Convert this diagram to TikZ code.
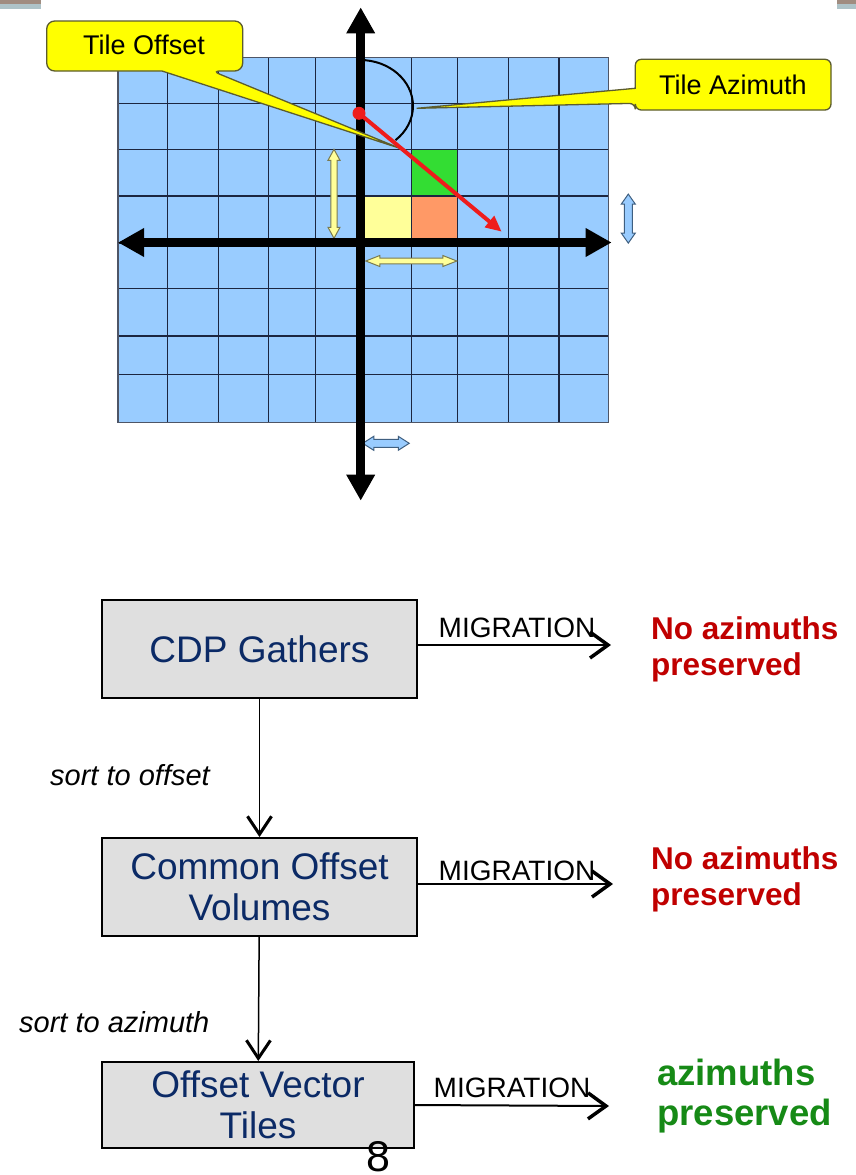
\documentclass[tikz,border=0pt]{standalone}
\usepackage{fontspec}
\setmainfont{Liberation Sans}
\usetikzlibrary{arrows.meta}

\definecolor{cellblue}{HTML}{99CCFF}
\definecolor{gridline}{HTML}{1C2640}
\definecolor{gridframe}{HTML}{4E5566}
\definecolor{tilegreen}{HTML}{33DD33}
\definecolor{tileorange}{HTML}{FF9966}
\definecolor{tileyellow}{HTML}{FFFF99}
\definecolor{calloutfill}{HTML}{FFFF00}
\definecolor{calloutedge}{HTML}{5C5C2E}
\definecolor{azred}{HTML}{EE1C1C}
\definecolor{boxfill}{HTML}{DFDFDF}
\definecolor{boxtext}{HTML}{0B2A66}
\definecolor{lossred}{HTML}{C00000}
\definecolor{keepgreen}{HTML}{168A16}
\definecolor{blueedge}{HTML}{3F5F80}
\definecolor{yellowedge}{HTML}{7A7A50}
\definecolor{sliverbrown}{HTML}{A08C80}
\definecolor{slivergray}{HTML}{AEC3C8}

\tikzset{
  % block double arrow: length, head length, head half width, shaft half width
  pics/dblarrow/.style n args={4}{code={
    \path[pic actions] ({-#1/2},0) -- ({-#1/2+#2},{-#3}) -- ({-#1/2+#2},{-#4})
      -- ({#1/2-#2},{-#4}) -- ({#1/2-#2},{-#3}) -- ({#1/2},0)
      -- ({#1/2-#2},{#3}) -- ({#1/2-#2},{#4}) -- ({-#1/2+#2},{#4})
      -- ({-#1/2+#2},{#3}) -- cycle;
  }},
  gridln/.style={draw=gridline, line width=1.4pt},
  frame/.style={draw=gridframe, line width=1.5pt},
  axisline/.style={line width=8.5pt, black,
    {Triangle[length=26pt,width=27pt]}-{Triangle[length=26pt,width=27pt]}},
  yellowarrow/.style={draw=yellowedge, fill=tileyellow, line width=1pt},
  bluearrow/.style={draw=blueedge, fill=cellblue, line width=1pt},
  callout/.style={fill=calloutfill, draw=calloutedge, line width=1.3pt, rounded corners=8pt},
  callouttext/.style={font=\fontsize{27}{31}\selectfont, text=black, inner sep=0pt},
  azimutharrow/.style={draw=azred, line width=4pt, -{Triangle[length=16pt,width=14pt]}},
  stagebox/.style={draw=black, line width=2pt, fill=boxfill, text=boxtext,
    font=\fontsize{37}{41}\selectfont, align=center, inner sep=0pt},
  sortlink/.style={draw=black, line width=1.5pt,
    -{Straight Barb[length=18pt,width=24pt,line width=3pt]}},
  miglink/.style={draw=black, line width=2pt,
    -{Straight Barb[length=18pt,width=26pt,line width=3.5pt]}},
  miglabel/.style={font=\fontsize{28}{32}\selectfont, inner sep=0pt},
  sortlabel/.style={font=\itshape\fontsize{29}{33}\selectfont, inner sep=0pt, anchor=west},
  lossnote/.style={font=\bfseries\fontsize{31.5}{36}\selectfont, text=lossred,
    align=left, inner sep=0pt, anchor=west},
  keepnote/.style={font=\bfseries\fontsize{36.5}{40}\selectfont, text=keepgreen,
    align=left, inner sep=0pt, anchor=west},
}

\begin{document}
\begin{tikzpicture}[x=1pt, y=-1pt]
\useasboundingbox (0,0) rectangle (856,1175);
\fill[white] (0,0) rectangle (856,1175);

% slide corner strips
\fill[sliverbrown] (0,0) rectangle (41,4);
\fill[slivergray] (0,4) rectangle (41,9.3);
\fill[sliverbrown] (836.7,0) rectangle (856,4);
\fill[slivergray] (836.7,4) rectangle (856,9.3);

% tile grid
\fill[cellblue] (118,57.3) rectangle (608.7,422.5);
\fill[tilegreen] (411.5,149.3) rectangle (457.7,196);
\fill[tileyellow] (361,196) rectangle (411.5,243);
\fill[tileorange] (411.5,196) rectangle (457.7,243);
\foreach \gx in {167.7,218.5,268.3,315.7,361,411.5,457.7,508.3,559}
  \draw[gridln] (\gx,57.3) -- (\gx,422.5);
\foreach \gy in {103.3,149.3,196,243,288.3,336,374.3}
  \draw[gridln] (118,\gy) -- (608.7,\gy);
\draw[frame] (118,57.3) rectangle (608.7,422.5);

% tile size markers
\pic[yellowarrow, rotate=90] at (334,193.8) {dblarrow={89}{11}{6}{3.2}};
\pic[yellowarrow] at (411.3,261) {dblarrow={91}{14}{5.5}{2.8}};
\pic[bluearrow, rotate=90] at (628.3,218.6) {dblarrow={49}{10}{7}{4}};
\pic[bluearrow] at (386,443.3) {dblarrow={46.5}{11}{7}{4}};

% azimuth sweep
\draw[black, line width=2pt] (360,60) arc[start angle=-90, end angle=48, x radius=53, y radius=46];

% axes
\coordinate (ytop) at (360.7,7.3);
\coordinate (ybot) at (360.7,500.7);
\coordinate (xleft) at (118,242.5);
\coordinate (xright) at (611.7,242.5);
\draw[axisline] (ytop) -- (ybot);
\draw[axisline] (xleft) -- (xright);

% callouts
\path[callout] (144,21) -- (242.7,21) -- (242.7,71) -- (212,71)
  [sharp corners] -- (399,148) -- (162,71)
  [rounded corners=8pt] -- (46.7,71) -- (46.7,21) -- cycle;
\node[callouttext] (offsetlbl) at (144,45) {Tile Offset};
\path[callout, rounded corners=6pt] (733,59.3) -- (831,59.3) -- (831,110) -- (635.3,110) -- (635.3,103.3)
  [sharp corners] -- (416.7,108.3) -- (635.3,88.3)
  [rounded corners=6pt] -- (635.3,59.3) -- cycle;
\node[callouttext] (azlbl) at (733,85) {Tile Azimuth};

% offset vector
\coordinate (origin) at (359,113.3);
\coordinate (vectip) at (501.7,231.7);
\draw[azimutharrow] (origin) -- (vectip);
\fill[azred] (origin) circle (6.5);

% processing flow
\node[stagebox, minimum width=315pt, minimum height=98pt] (b1) at (259.5,649) {CDP Gathers};
\node[stagebox, minimum width=315pt, minimum height=98pt] (b2) at (259.5,887) {Common Offset\\Volumes};
\node[stagebox, minimum width=312pt, minimum height=86pt] (b3) at (258,1105) {Offset Vector\\Tiles};

\draw[sortlink] (b1) -- (b2);
\draw[sortlink] (b2) -- (b3);
\node[sortlabel] (s1) at (50,775) {sort to offset};
\node[sortlabel] (s2) at (19,1022) {sort to azimuth};

\coordinate (m1) at (611,645);
\coordinate (m2) at (613,884);
\coordinate (m3) at (609,1106);
\draw[miglink] (b1.east |- m1) -- (m1);
\draw[miglink] (b2.east |- m2) -- (m2);
\draw[miglink] (b3.east) -- (m3);
\node[miglabel] (g1) at (517,628) {MIGRATION};
\node[miglabel] (g2) at (517,871) {MIGRATION};
\node[miglabel] (g3) at (512,1088) {MIGRATION};

\node[lossnote] (r1) at (651,649) {No azimuths\\preserved};
\node[lossnote] (r2) at (651,879) {No azimuths\\preserved};
\node[keepnote] (r3) at (657,1096) {azimuths\\preserved};

\node[font=\fontsize{43}{50}\selectfont, inner sep=0pt, anchor=base] (pg) at (378,1171) {8};
\end{tikzpicture}
\end{document}
